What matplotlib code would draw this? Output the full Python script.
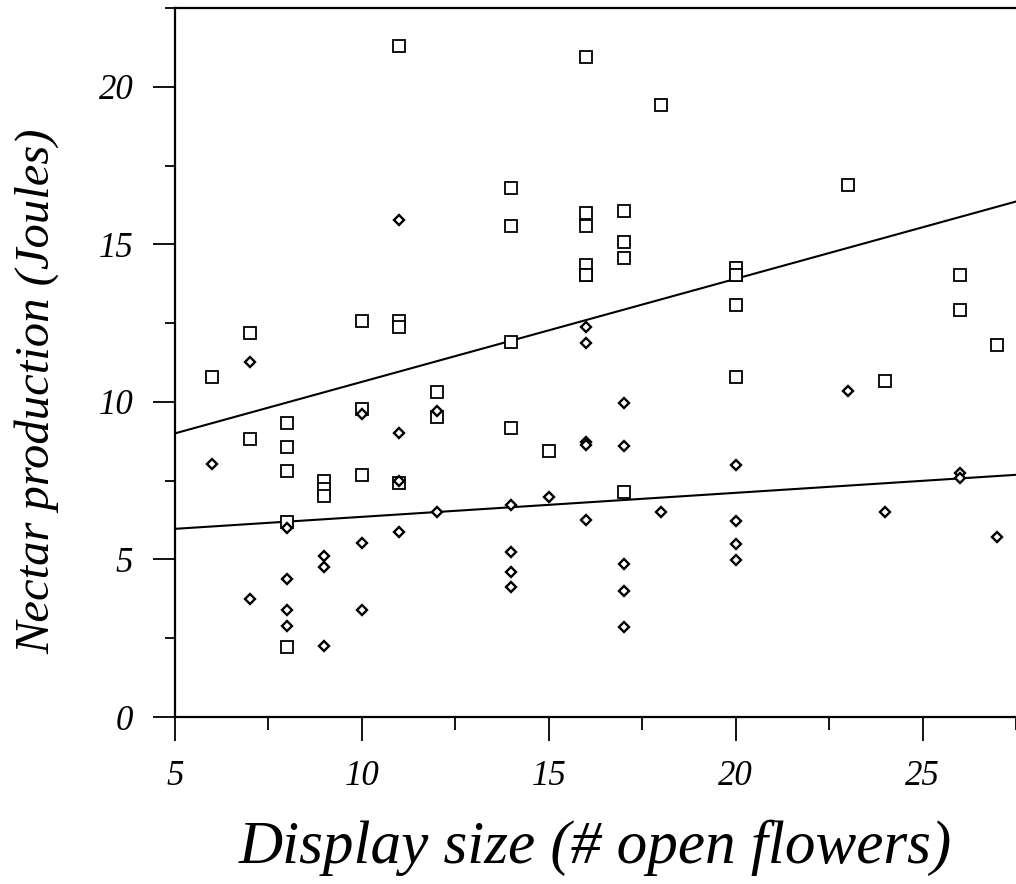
import numpy as np
import matplotlib
matplotlib.use("Agg")
import matplotlib.pyplot as plt
from matplotlib.ticker import MultipleLocator

# ---- nectar per plant vs display size: two measures (squares / diamonds) ----
sq_x = [6, 7, 7, 8, 8, 8, 8, 8, 9, 9, 9, 10, 10, 10, 11, 11, 11, 11, 12, 12,
        14, 14, 14, 14, 15, 16, 16, 16, 16, 16, 16, 17, 17, 17, 17, 18,
        20, 20, 20, 20, 20, 23, 24, 26, 26, 27]
sq_y = [10.8, 12.2, 8.83, 9.32, 8.56, 7.82, 6.2, 2.21, 7.5, 7.25, 7.0, 12.58, 9.78, 7.67,
        21.3, 12.58, 12.37, 7.42, 10.3, 9.53,
        16.8, 15.57, 11.91, 9.16, 8.44, 20.94, 15.99, 15.57, 14.35, 14.03, 14.03,
        16.07, 15.07, 14.56, 7.15, 19.41,
        14.24, 14.03, 13.06, 10.8, 14.03, 16.89, 10.67, 14.03, 12.9, 11.79]

dm_x = [6, 7, 7, 8, 8, 8, 8, 9, 9, 9, 10, 10, 10, 11, 11, 11, 11, 12, 12,
        14, 14, 14, 14, 15, 16, 16, 16, 16, 16, 17, 17, 17, 17, 17, 18,
        20, 20, 20, 20, 23, 24, 26, 26, 27]
dm_y = [8.02, 11.25, 3.75, 6.01, 4.37, 3.40, 2.90, 5.11, 4.75, 2.26, 9.6, 5.51, 3.40,
        15.76, 9.0, 7.5, 5.86, 9.71, 6.5,
        6.73, 5.25, 4.59, 4.12, 6.97, 12.37, 11.88, 8.72, 8.63, 6.25,
        9.98, 8.61, 4.84, 4.0, 2.87, 6.5,
        8.0, 6.23, 5.49, 4.97, 10.33, 6.49, 7.73, 7.57, 5.72]

# fitted lines (intercept at x=0, slope)
sq_fit = (7.365, 0.327)
dm_fit = (5.59, 0.0762)

plt.rcParams["font.family"] = ["Liberation Serif", "DejaVu Serif"]
plt.rcParams["font.style"] = "italic"

fig = plt.figure(figsize=(10.16, 8.84), dpi=100)
ax = fig.add_axes([0.1722, 0.1889, 1.0 - 0.1722, 0.991 - 0.1889])

ax.plot(sq_x, sq_y, "s", ms=8, mfc="white", mec="black", mew=1.3, ls="none", zorder=3)
ax.plot(dm_x, dm_y, "D", ms=4.8, mfc="white", mec="black", mew=1.7, ls="none", zorder=4)

xx = np.array([5.0, 27.5])
ax.plot(xx, sq_fit[0] + sq_fit[1] * xx, "k-", lw=1.5, zorder=2)
ax.plot(xx, dm_fit[0] + dm_fit[1] * xx, "k-", lw=1.5, zorder=2)

ax.set_xlim(5, 27.5)
ax.set_ylim(0, 22.5)
ax.spines["right"].set_visible(False)
for s in ("left", "bottom", "top"):
    ax.spines[s].set_linewidth(1.6)

ax.xaxis.set_major_locator(MultipleLocator(5))
ax.xaxis.set_minor_locator(MultipleLocator(2.5))
ax.yaxis.set_major_locator(MultipleLocator(5))
ax.yaxis.set_minor_locator(MultipleLocator(2.5))
ax.tick_params(axis="x", which="major", direction="out", length=17, width=1.3, pad=14, labelsize=25)
ax.tick_params(axis="x", which="minor", direction="out", length=9, width=1.3)
ax.tick_params(axis="y", which="major", direction="out", length=16, width=1.3, pad=14, labelsize=25)
ax.tick_params(axis="y", which="minor", direction="out", length=7, width=1.3)

ax.set_xlabel("Display size (# open flowers)", fontsize=44)
ax.set_ylabel("Nectar production (Joules)", fontsize=35)
ax.xaxis.set_label_coords(0.5, -0.145)
ax.yaxis.set_label_coords(-0.138, 0.46)

fig.savefig("out.png", dpi=100)
